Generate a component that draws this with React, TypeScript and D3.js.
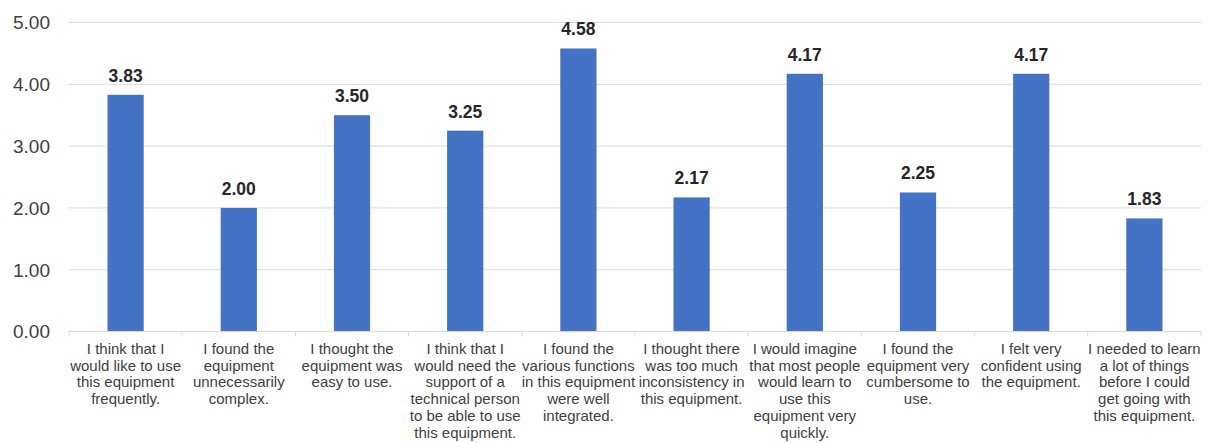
import React, { useRef, useEffect } from 'react';
import * as d3 from 'd3';

const categories: string[][] = [
  ["I think that I", "would like to use", "this equipment", "frequently."],
  ["I found the", "equipment", "unnecessarily", "complex."],
  ["I thought the", "equipment was", "easy to use."],
  ["I think that I", "would need the", "support of a", "technical person", "to be able to use", "this equipment."],
  ["I found the", "various functions", "in this equipment", "were well", "integrated."],
  ["I thought there", "was too much", "inconsistency in", "this equipment."],
  ["I would imagine", "that most people", "would learn to", "use this", "equipment very", "quickly."],
  ["I found the", "equipment very", "cumbersome to", "use."],
  ["I felt very", "confident using", "the equipment."],
  ["I needed to learn", "a lot of things", "before I could", "get going with", "this equipment."],
];

const scores: number[] = [3.83, 2.0, 3.5, 3.25, 4.58, 2.17, 4.17, 2.25, 4.17, 1.83];

const yTicks: number[] = [0, 1, 2, 3, 4, 5];

const App: React.FC = () => {
  const svgRef = useRef<SVGSVGElement>(null);

  useEffect(() => {
    if (!svgRef.current) return;
    const svg = d3.select(svgRef.current);
    svg.selectAll("*").remove();

    const W = 1209;
    const H = 443;
    const left = 69;
    const right = 1201;
    const top = 22.5;
    const bottom = 331.5;

    svg.attr("width", W).attr("height", H);

    const idx = scores.map((_, i) => String(i));
    const x = d3.scaleBand().domain(idx).range([left, right]).paddingInner(0.68).paddingOuter(0.34);
    const xCat = d3.scaleBand().domain(idx).range([left, right]);
    const y = d3.scaleLinear().domain([0, 5]).range([bottom, top]);

    const font = "'Liberation Sans', Arial, sans-serif";

    // gridlines
    svg.append("g")
      .selectAll("line")
      .data(yTicks.filter(t => t > 0))
      .join("line")
      .attr("x1", left).attr("x2", right)
      .attr("y1", d => y(d)).attr("y2", d => y(d))
      .attr("stroke", "#d9d9d9")
      .attr("stroke-width", 1);

    // y labels
    svg.append("g")
      .selectAll("text")
      .data(yTicks)
      .join("text")
      .attr("x", 50)
      .attr("y", d => y(d))
      .attr("dy", "0.36em")
      .attr("text-anchor", "end")
      .style("font-family", font)
      .style("font-size", "19px")
      .style("fill", "#404040")
      .text(d => d.toFixed(2));

    // bars
    svg.append("g")
      .selectAll("rect")
      .data(scores)
      .join("rect")
      .attr("x", (_, i) => x(String(i))!)
      .attr("width", x.bandwidth())
      .attr("y", d => y(d))
      .attr("height", d => bottom - y(d))
      .attr("fill", "#4472C4");

    // value labels
    svg.append("g")
      .selectAll("text")
      .data(scores)
      .join("text")
      .attr("x", (_, i) => x(String(i))! + x.bandwidth() / 2)
      .attr("y", d => y(d) - 13)
      .attr("text-anchor", "middle")
      .style("font-family", font)
      .style("font-size", "17.5px")
      .style("font-weight", "bold")
      .style("fill", "#262626")
      .text(d => d.toFixed(2));

    // x axis line and ticks
    svg.append("line")
      .attr("x1", left).attr("x2", right)
      .attr("y1", bottom).attr("y2", bottom)
      .attr("stroke", "#d9d9d9");

    svg.append("g")
      .selectAll("line")
      .data([...idx.map(d => xCat(d)!), right])
      .join("line")
      .attr("x1", d => d).attr("x2", d => d)
      .attr("y1", bottom).attr("y2", bottom + 5)
      .attr("stroke", "#d9d9d9");

    // category labels
    const catG = svg.append("g")
      .selectAll("text")
      .data(categories)
      .join("text")
      .attr("x", (_, i) => xCat(String(i))! + xCat.bandwidth() / 2)
      .attr("y", 354)
      .attr("text-anchor", "middle")
      .style("font-family", font)
      .style("font-size", "15px")
      .style("fill", "#404040");

    catG.selectAll("tspan")
      .data(d => d)
      .join("tspan")
      .attr("x", function () {
        return (this as SVGTSpanElement).parentElement!.getAttribute("x");
      })
      .attr("dy", (_, j) => (j === 0 ? 0 : 16.7))
      .text(d => d);
  }, []);

  return (
    <svg
      ref={svgRef}
      style={{ position: "absolute", left: 0, top: 0, display: "block", background: "#fff" }}
    ></svg>
  );
};

export default App;
